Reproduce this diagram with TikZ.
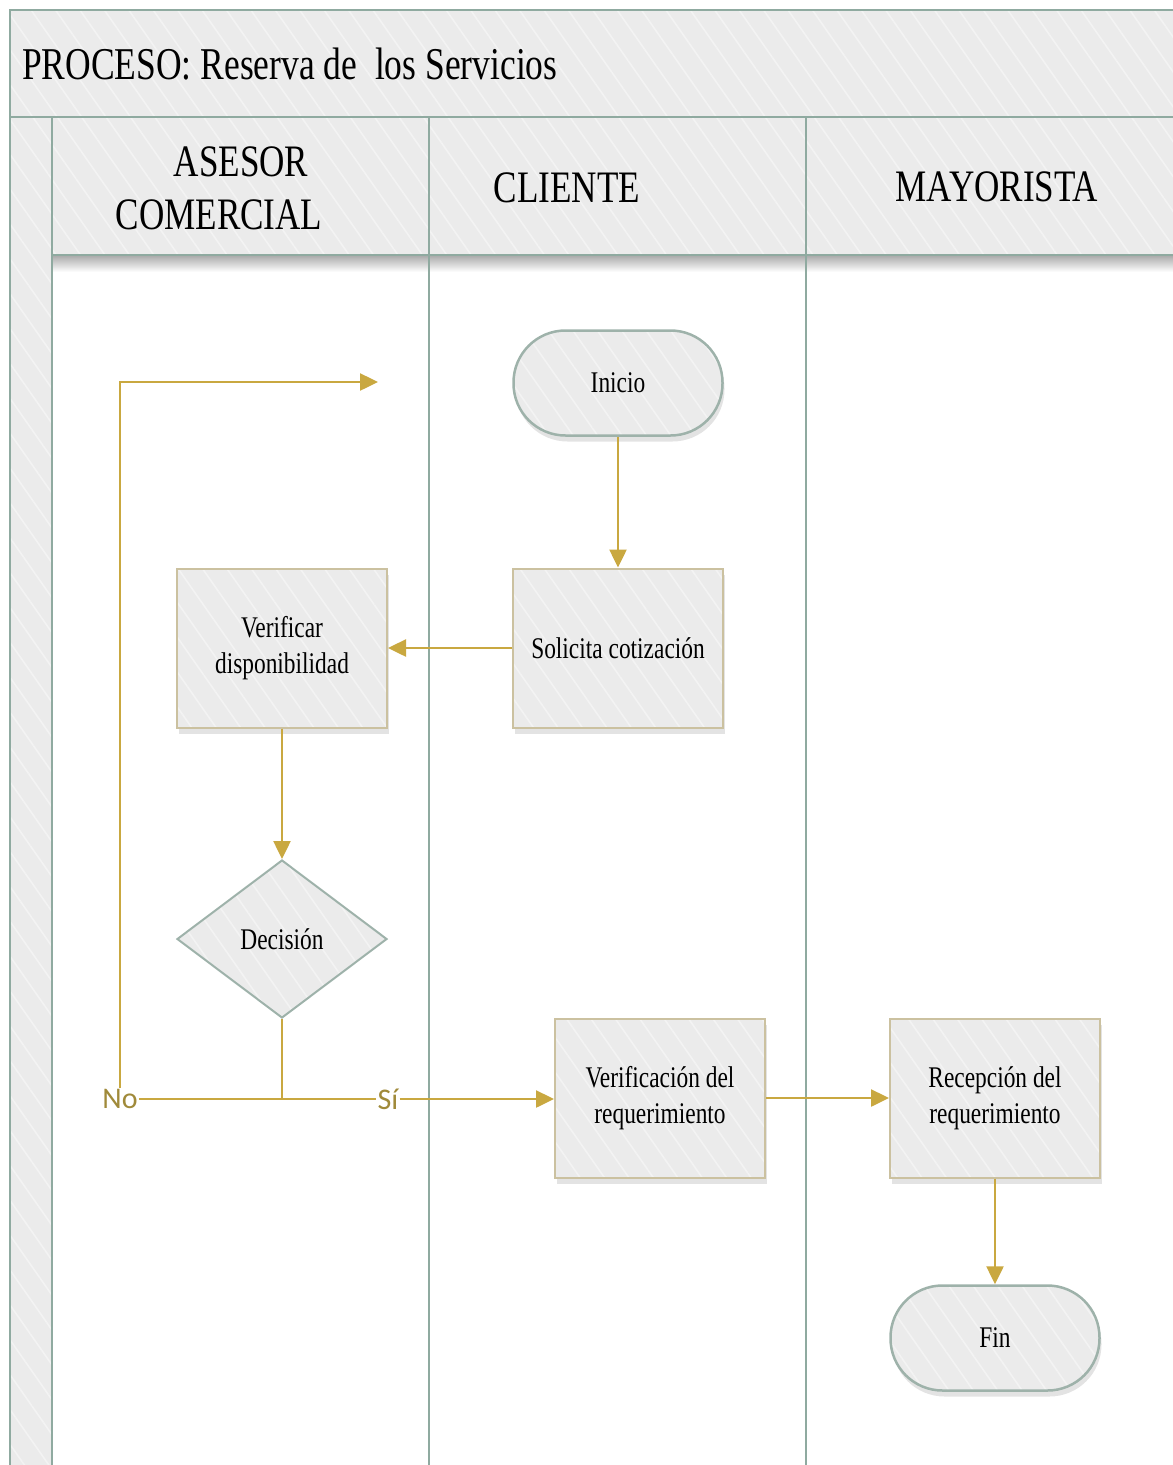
\documentclass[tikz,border=0pt]{standalone}
\usepackage{fontspec}
\setmainfont{Liberation Serif}[FakeStretch=0.78]
\newfontfamily\lblfont{Carlito}
\usetikzlibrary{shapes.geometric,arrows.meta,patterns.meta,shadows,calc}
\definecolor{frameC}{RGB}{143,170,160}
\definecolor{termB}{RGB}{158,178,170}
\definecolor{goldC}{RGB}{201,168,64}
\definecolor{goldT}{RGB}{160,138,58}
\definecolor{boxB}{RGB}{203,193,160}
\definecolor{fillC}{RGB}{235,235,235}
\definecolor{hatchC}{RGB}{243,243,243}
\tikzset{
  hatched/.style={preaction={fill=fillC}, preaction={pattern={Lines[angle=-55,distance=20pt,line width=1.6pt]}, pattern color=hatchC}},
  lanepart/.style={hatched, draw=frameC, line width=2.5pt},
  divider/.style={draw=frameC, line width=2.5pt},
  txt/.style={font=\fontsize{30}{36}\selectfont, align=center, text=black},
  hdr/.style={font=\fontsize{45}{53}\selectfont, align=center, text=black, inner sep=0pt},
  boxshadow/.style={drop shadow={opacity=0.22, shadow xshift=2pt, shadow yshift=-6pt}},
  terminal/.style={txt, boxshadow, hatched, draw=termB, line width=2.5pt, rounded corners=52pt, minimum width=209pt, minimum height=105pt},
  procbox/.style={txt, boxshadow, hatched, draw=boxB, line width=2pt, minimum width=210pt, minimum height=159pt},
  decbox/.style={txt, diamond, hatched, draw=termB, line width=2pt, minimum width=210pt, minimum height=158pt, inner sep=0pt, aspect=1.33},
  conn/.style={draw=goldC, line width=2.5pt},
  arr/.style={conn, -{Triangle[length=18pt,width=17pt]}},
  lbl/.style={font=\lblfont\fontsize{30}{30}\selectfont, text=goldT, inner sep=1pt}
}
\begin{document}
\begin{tikzpicture}[x=1pt,y=-1pt]
\useasboundingbox (0,0) rectangle (1173,1465);
\clip (0,0) rectangle (1173,1465);
% header shadow
\shade[top color=black!32, bottom color=white] (52,256) rectangle (1185,272);
% frame
\path[lanepart] (10,10) rectangle (1190,117);
\path[lanepart] (10,117) rectangle (52,1480);
\path[lanepart] (52,117) rectangle (429,255);
\path[lanepart] (429,117) rectangle (806,255);
\path[lanepart] (806,117) rectangle (1190,255);
\draw[divider] (429,255) -- (429,1480);
\draw[divider] (806,255) -- (806,1480);
% titles
\node[hdr, font=\fontsize{45.5}{54}\selectfont, anchor=base west] (title) at (22,79) {PROCESO: Reserva de\ \ los Servicios};
\node[hdr, anchor=base] (hA) at (219,229) {\hspace*{44pt}ASESOR\\COMERCIAL};
\node[hdr, anchor=base] (hC) at (567,202) {CLIENTE};
\node[hdr, anchor=base] (hM) at (997,201) {MAYORISTA};
% nodes
\node[terminal] (inicio) at (618,383) {Inicio};
\node[procbox] (solicita) at (618,648) {Solicita cotización};
\node[procbox] (verifdisp) at (282,648) {Verificar\\disponibilidad};
\node[decbox] (dec) at (282,939) {Decisión};
\node[procbox] (verifreq) at (660,1098) {Verificación del\\requerimiento};
\node[procbox] (recep) at (995,1098) {Recepción del\\requerimiento};
\node[terminal] (fin) at (995,1338) {Fin};
% labels
\node[lbl] (no) at (120,1099) {No};
\node[lbl] (si) at (388,1099) {Sí};
\coordinate (junc) at (282,1098);
\coordinate (loopend) at (378,382);
% connectors
\draw[arr] (inicio) -- (solicita);
\draw[arr] (solicita) -- (verifdisp);
\draw[arr] (verifdisp) -- (dec);
\draw[conn] (dec.south) -- (junc);
\draw[conn] (no.east) -- (si.west);
\draw[arr] (si.east) -- (si.east -| verifreq.west);
\draw[arr] (no.north) -- (no.north |- loopend) -- (loopend);
\draw[arr] (verifreq) -- (recep);
\draw[arr] (recep) -- (fin);
\end{tikzpicture}
\end{document}
